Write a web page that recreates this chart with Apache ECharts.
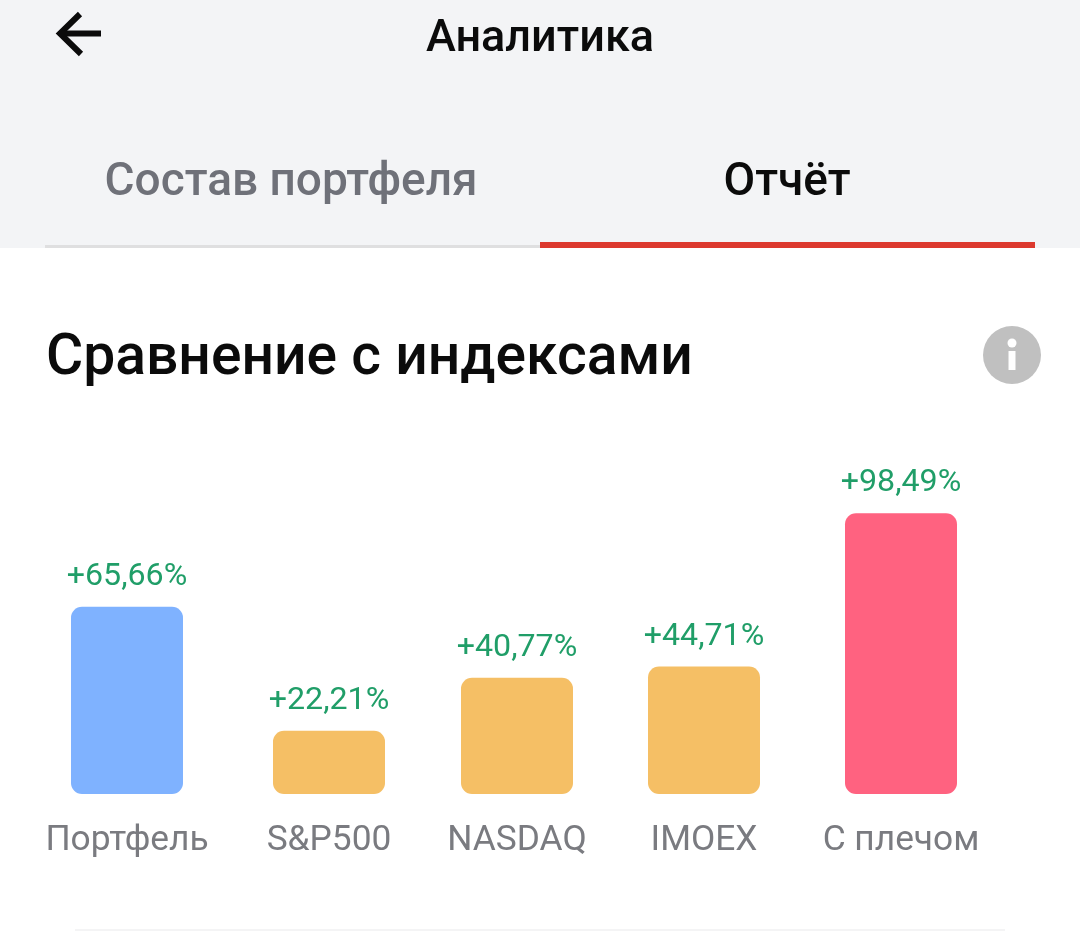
<!DOCTYPE html>
<html><head><meta charset="utf-8">
<style>html,body{margin:0;padding:0;background:#fff}#c{width:1080px;height:931px}</style>
<script src="https://cdn.jsdelivr.net/npm/echarts@6/dist/echarts.min.js"></script>
</head><body><div id="c"></div>
<script>
const categories = ['Портфель','S&P500','NASDAQ','IMOEX','С плечом'];
const values = [65.66,22.21,40.77,44.71,98.49];
const barColors = ['#7FB2FF','#F5BF65','#F5BF65','#F5BF65','#FF6280'];
const slotCenters = [127,329,517,704,901];
const slotWidth = 112, axisMax = 110, plotBottom = 794, pxPerUnit = 2.85;
const font = 'Roboto';
const fmt = v => '+' + v.toFixed(2).replace('.', ',') + '%';

const grid=[], xAxis=[], yAxis=[], series=[];
categories.forEach((c,i)=>{
  grid.push({left:slotCenters[i]-slotWidth/2, width:slotWidth, top:plotBottom-axisMax*pxPerUnit, height:axisMax*pxPerUnit, containLabel:false});
  xAxis.push({type:'category',gridIndex:i,data:[c],axisLine:{show:false},axisTick:{show:false},
    axisLabel:{interval:0,margin:28,color:'#7A7B80',fontFamily:font,fontSize:35.3,lineHeight:38,hideOverlap:false}});
  yAxis.push({type:'value',gridIndex:i,min:0,max:axisMax,show:false,splitLine:{show:false}});
  series.push({type:'bar',xAxisIndex:i,yAxisIndex:i,data:[values[i]],barWidth:'100%',silent:true,
    itemStyle:{color:barColors[i],borderRadius:11},
    label:{show:true,position:'top',distance:14,formatter:p=>fmt(p.value),color:'#209E68',fontFamily:font,fontSize:32.2}});
});

const txt=(x,y,t,size,weight,color,align)=>({type:'text',x,y,silent:true,style:{text:t,fontFamily:font,fontSize:size,fontWeight:weight,fill:color,align:align||'left',verticalAlign:'middle'}});
const chart=echarts.init(document.getElementById('c'),null,{renderer:'canvas'});
chart.setOption({
  animation:false,backgroundColor:'#fff',
  title:{text:'Сравнение с индексами',left:46,top:329,padding:0,textStyle:{fontFamily:font,fontSize:57,fontWeight:500,color:'#0B0B0B',lineHeight:62}},
  grid,xAxis,yAxis,series,
  graphic:[
    {type:'rect',z:-10,silent:true,shape:{x:0,y:0,width:1080,height:248},style:{fill:'#F3F4F6'}},
    {type:'rect',silent:true,shape:{x:45,y:245,width:495,height:3},style:{fill:'#DFDFE0'}},
    {type:'rect',silent:true,shape:{x:540,y:242,width:495,height:6},style:{fill:'#DC392E'}},
    {type:'polyline',silent:true,shape:{points:[[80,14],[60,33.5],[81,54]]},style:{stroke:'#0B0B0B',lineWidth:6,fill:null}},
    {type:'line',silent:true,shape:{x1:62,y1:33.5,x2:101,y2:33.5},style:{stroke:'#0B0B0B',lineWidth:6}},
    txt(540,40,'Аналитика',45,500,'#0B0B0B','center'),
    txt(291,183,'Состав портфеля',46,500,'#6F7179','center'),
    txt(787,183,'Отчёт',46,500,'#0B0B0B','center'),
    {type:'circle',silent:true,shape:{cx:1012,cy:355,r:29},style:{fill:'#C0C0C0'}},
    {type:'circle',silent:true,shape:{cx:1012,cy:343,r:4.5},style:{fill:'#fff'}},
    {type:'rect',silent:true,shape:{x:1008.5,y:351,width:7,height:19},style:{fill:'#fff'}},
    {type:'rect',silent:true,shape:{x:75,y:929,width:930,height:2},style:{fill:'#F4F4F5'}}
  ]
});
</script></body></html>
